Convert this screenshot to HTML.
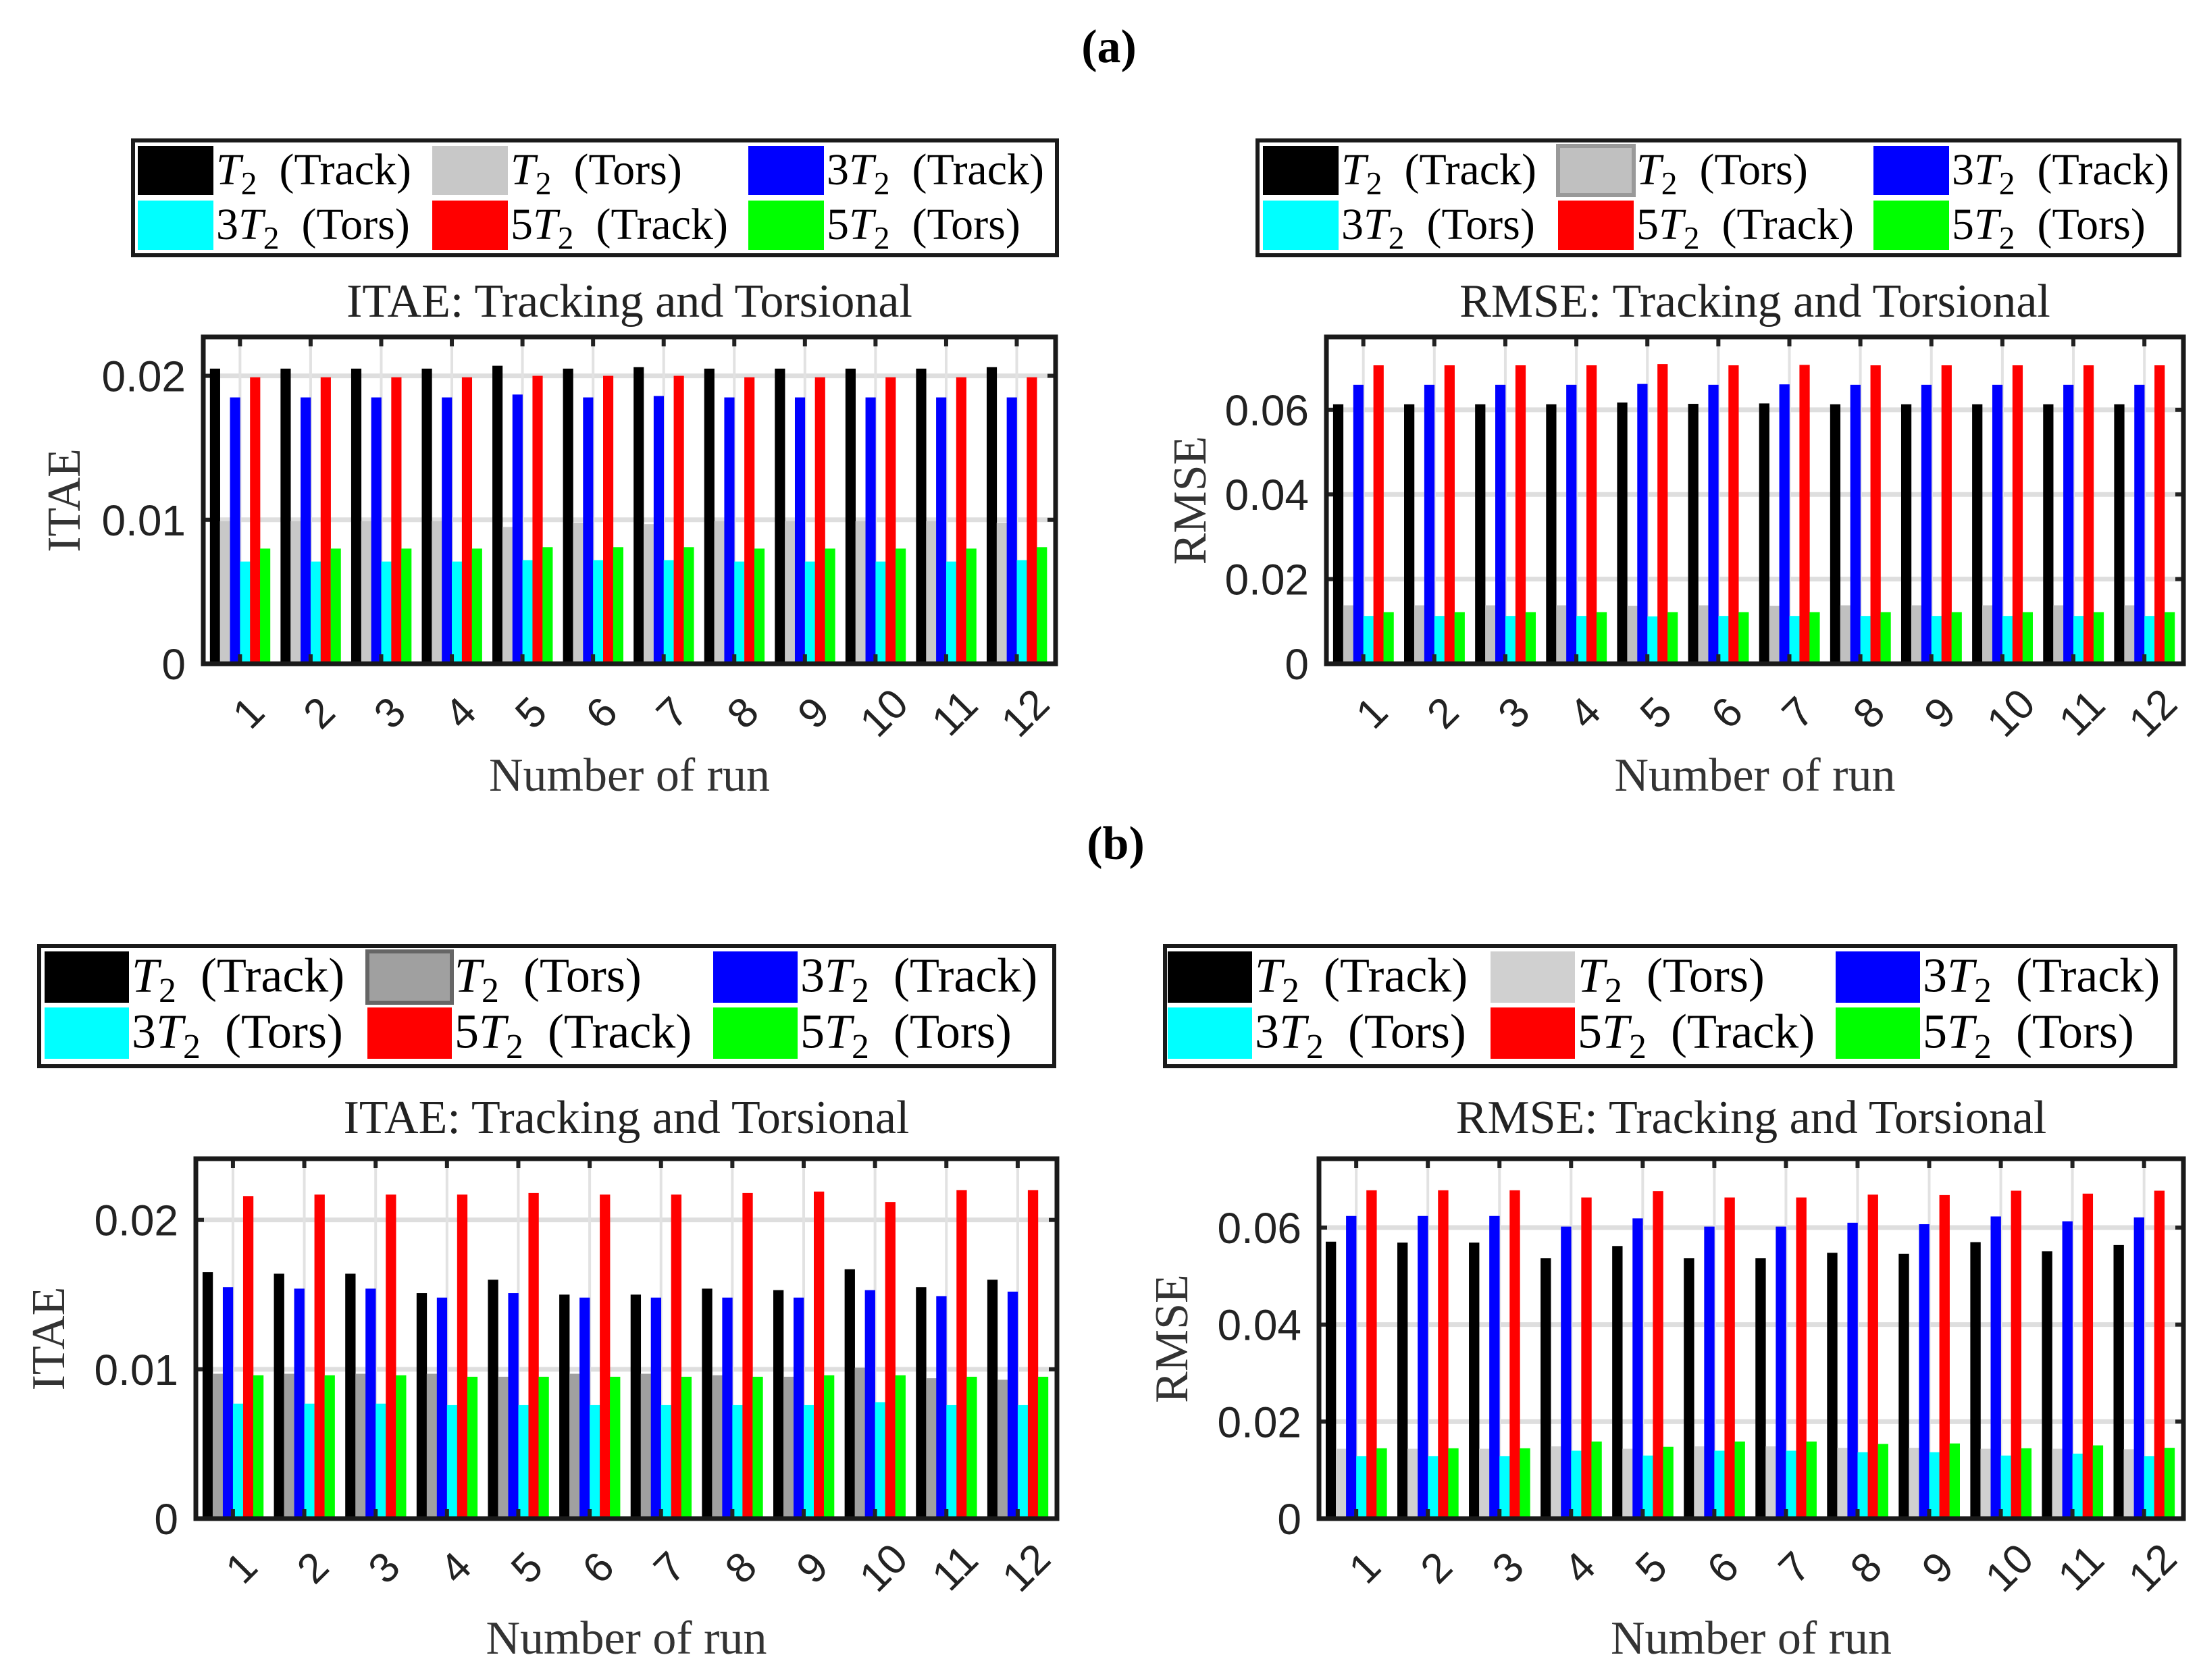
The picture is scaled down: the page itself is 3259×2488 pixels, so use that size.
<!DOCTYPE html>
<html><head><meta charset="utf-8"><style>
html,body{margin:0;padding:0;background:#fff}
svg{display:block}
</style></head><body>
<svg id="fig" width="3259" height="2488" viewBox="0 0 3259 2488" xmlns="http://www.w3.org/2000/svg">
<text x="1642" y="92" font-family="Liberation Serif, serif" font-weight="bold" font-size="70" text-anchor="middle">(a)</text>
<text x="1652" y="1272" font-family="Liberation Serif, serif" font-weight="bold" font-size="70" text-anchor="middle">(b)</text>
</svg>
<script>
const runs = ['1','2','3','4','5','6','7','8','9','10','11','12'];
const seriesNames = ['T2 (Track)','T2 (Tors)','3T2 (Track)','3T2 (Tors)','5T2 (Track)','5T2 (Tors)'];
// (a) ITAE
const aItaeT2Track = [0.0205,0.0205,0.0205,0.0205,0.0207,0.0205,0.0206,0.0205,0.0205,0.0205,0.0205,0.0206];
const aItaeT2Tors = [0.0099,0.0099,0.0099,0.0099,0.0095,0.0098,0.0097,0.0099,0.0099,0.0099,0.0099,0.0098];
const aItae3T2Track = [0.0185,0.0185,0.0185,0.0185,0.0187,0.0185,0.0186,0.0185,0.0185,0.0185,0.0185,0.0185];
const aItae3T2Tors = [0.0071,0.0071,0.0071,0.0071,0.0072,0.0072,0.0072,0.0071,0.0071,0.0071,0.0071,0.0072];
const aItae5T2Track = [0.0199,0.0199,0.0199,0.0199,0.0200,0.0200,0.0200,0.0199,0.0199,0.0199,0.0199,0.0199];
const aItae5T2Tors = [0.0080,0.0080,0.0080,0.0080,0.0081,0.0081,0.0081,0.0080,0.0080,0.0080,0.0080,0.0081];
const aItaeTicks = [0,0.01,0.02];
const aItaeTickLabels = ['0','0.01','0.02'];
// (a) RMSE
const aRmseT2Track = [0.0613,0.0613,0.0613,0.0613,0.0617,0.0614,0.0615,0.0613,0.0613,0.0613,0.0613,0.0613];
const aRmseT2Tors = [0.0138,0.0138,0.0138,0.0138,0.0137,0.0138,0.0137,0.0138,0.0138,0.0138,0.0138,0.0138];
const aRmse3T2Track = [0.0659,0.0659,0.0659,0.0659,0.0661,0.0659,0.0660,0.0659,0.0659,0.0659,0.0659,0.0659];
const aRmse3T2Tors = [0.0113,0.0113,0.0113,0.0113,0.0112,0.0113,0.0113,0.0113,0.0113,0.0113,0.0113,0.0113];
const aRmse5T2Track = [0.0705,0.0705,0.0705,0.0705,0.0708,0.0705,0.0706,0.0705,0.0705,0.0705,0.0705,0.0705];
const aRmse5T2Tors = [0.0122,0.0122,0.0122,0.0122,0.0122,0.0122,0.0122,0.0122,0.0122,0.0122,0.0122,0.0122];
const rmseTicks = [0,0.02,0.04,0.06];
const rmseTickLabels = ['0','0.02','0.04','0.06'];
// (b) ITAE
const bItaeT2Track = [0.0165,0.0164,0.0164,0.0151,0.0160,0.0150,0.0150,0.0154,0.0153,0.0167,0.0155,0.0160];
const bItaeT2Tors = [0.0097,0.0097,0.0097,0.0097,0.0095,0.0097,0.0097,0.0096,0.0095,0.0101,0.0094,0.0093];
const bItae3T2Track = [0.0155,0.0154,0.0154,0.0148,0.0151,0.0148,0.0148,0.0148,0.0148,0.0153,0.0149,0.0152];
const bItae3T2Tors = [0.0077,0.0077,0.0077,0.0076,0.0076,0.0076,0.0076,0.0076,0.0076,0.0078,0.0076,0.0076];
const bItae5T2Track = [0.0216,0.0217,0.0217,0.0217,0.0218,0.0217,0.0217,0.0218,0.0219,0.0212,0.0220,0.0220];
const bItae5T2Tors = [0.0096,0.0096,0.0096,0.0095,0.0095,0.0095,0.0095,0.0095,0.0096,0.0096,0.0095,0.0095];
const bItaeTicks = [0,0.01,0.02];
const bItaeTickLabels = ['0','0.01','0.02'];
// (b) RMSE
const bRmseT2Track = [0.0571,0.0569,0.0569,0.0537,0.0562,0.0537,0.0537,0.0548,0.0546,0.0570,0.0551,0.0564];
const bRmseT2Tors = [0.0144,0.0144,0.0144,0.0149,0.0144,0.0149,0.0149,0.0146,0.0146,0.0144,0.0144,0.0143];
const bRmse3T2Track = [0.0624,0.0624,0.0624,0.0602,0.0619,0.0602,0.0602,0.0610,0.0607,0.0623,0.0613,0.0621];
const bRmse3T2Tors = [0.0129,0.0129,0.0129,0.0140,0.0130,0.0140,0.0140,0.0137,0.0137,0.0130,0.0134,0.0129];
const bRmse5T2Track = [0.0677,0.0677,0.0677,0.0662,0.0675,0.0662,0.0662,0.0668,0.0667,0.0676,0.0670,0.0676];
const bRmse5T2Tors = [0.0145,0.0145,0.0145,0.0159,0.0148,0.0159,0.0159,0.0154,0.0155,0.0145,0.0151,0.0146];

const NS = 'http://www.w3.org/2000/svg';
const svg = document.getElementById('fig');
function mk(tag, attrs, parent){
  const e = document.createElementNS(NS, tag);
  for (const k in attrs) e.setAttribute(k, attrs[k]);
  (parent||svg).appendChild(e);
  return e;
}
function legendLabel(t, x, y, fs, parent){
  const pre = t.startsWith('3') ? '3' : (t.startsWith('5') ? '5' : '');
  const rest = t.slice(t.indexOf(' '));
  const tx = mk('text', {x:x, y:y, 'font-family':'Liberation Serif, serif', 'font-size':fs}, parent);
  if (pre) { const a = mk('tspan', {}, tx); a.textContent = pre; }
  const b = mk('tspan', {'font-style':'italic'}, tx); b.textContent = 'T';
  const c = mk('tspan', {dy: fs*0.22, 'font-size': fs*0.72}, tx); c.textContent = '2';
  const d = mk('tspan', {dy: -fs*0.22}, tx); d.textContent = '\u00A0\u00A0' + rest.trim();
  return tx;
}

function chart(cfg){
  const g = mk('g', {});
  
  
  const L = cfg.legend;
  const lg = mk('g', {}, g);
  
  
  mk('rect', {x:L.x, y:L.y, width:L.w, height:L.h, fill:'#fff', stroke:'#1a1a1a', 'stroke-width':6}, lg);
  for (let i = 0; i < 6; i++){
    const col = i % 3, row = Math.floor(i/3);
    const sx = L.cols[col], sy = L.rows[row];
    const e = mk('g', {}, lg);
    
    
    const sw = mk('rect', {x:sx, y:sy, width:L.sw, height:L.sh, fill:cfg.colors[i]}, e);
    if (i === 1 && cfg.grayBorder) { sw.setAttribute('stroke', cfg.grayBorder); sw.setAttribute('stroke-width', 6); }
    legendLabel(seriesNames[i], sx + L.sw + 4, sy + L.sh*0.78, L.fs, e);
  }
  const A = cfg.axes;
  const xS = v => A.x0 + (v - A.xmin) / (A.xmax - A.xmin) * (A.x1 - A.x0);
  const yS = v => A.y1 - v / A.ymax * (A.y1 - A.y0);
  const title = mk('text', {x:(A.x0+A.x1)/2, y:A.y0-30 + (cfg.titleDy||0), 'text-anchor':'middle', 'font-family':'Liberation Serif, serif', 'font-size':70, fill:'#222'}, g);
  
  
  title.textContent = cfg.title;
  cfg.ticks.forEach((t, i) => {
    if (t > 0) {
      const gl = mk('line', {x1:A.x0, x2:A.x1, y1:yS(t), y2:yS(t), stroke:'#dedede', 'stroke-width':7}, g);
      
      
    }
    const tl = mk('text', {x:A.x0-26, y:yS(t)+23, 'text-anchor':'end', 'font-family':'Liberation Sans, sans-serif', 'font-size':64, fill:'#222'}, g);
    
    
    tl.textContent = cfg.tickLabels[i];
    mk('line', {x1:A.x0, x2:A.x0+12, y1:yS(t), y2:yS(t), stroke:'#222', 'stroke-width':6}, g);
    mk('line', {x1:A.x1-12, x2:A.x1, y1:yS(t), y2:yS(t), stroke:'#222', 'stroke-width':6}, g);
  });
  runs.forEach((r, i) => {
    const cx = xS(i+1);
    const vg = mk('line', {x1:cx, x2:cx, y1:A.y0, y2:A.y1, stroke:'#e2e2e2', 'stroke-width':4}, g);
    
    
  });
  const spacing = xS(2) - xS(1);
  const bw = spacing * 0.142;
  cfg.series.forEach((arr, k) => {
    arr.forEach((v, i) => {
      const cx = xS(i+1) + (k - 2.5) * bw;
      const b = mk('rect', {x:cx - bw/2, y:yS(v), width:bw*1.02, height:yS(0)-yS(v), fill:cfg.colors[k]}, g);
      
      
    });
  });
  runs.forEach((r, i) => {
    const cx = xS(i+1);
    mk('line', {x1:cx, x2:cx, y1:A.y0, y2:A.y0+14, stroke:'#222', 'stroke-width':6}, g);
    mk('line', {x1:cx, x2:cx, y1:A.y1-14, y2:A.y1, stroke:'#222', 'stroke-width':6}, g);
    const lx = cx + 12, ly = A.y1 + 72;
    const tl = mk('text', {x:lx, y:ly + 22, 'text-anchor':'middle', 'font-family':'Liberation Sans, sans-serif', 'font-size':62, fill:'#222', transform:'rotate(-45 '+lx+' '+ly+')'}, g);
    
    
    tl.textContent = r;
  });
  const box = mk('rect', {x:A.x0, y:A.y0, width:A.x1-A.x0, height:A.y1-A.y0, fill:'none', stroke:'#1a1a1a', 'stroke-width':7}, g);
  
  
  const xl = mk('text', {x:(A.x0+A.x1)/2, y:A.y1+188 + (cfg.xlDy||0), 'text-anchor':'middle', 'font-family':'Liberation Serif, serif', 'font-size':70, fill:'#333'}, g);
  
  
  xl.textContent = 'Number of run';
  const yl = mk('text', {x:cfg.ylabelX, y:(A.y0+A.y1)/2, 'text-anchor':'middle', 'font-family':'Liberation Serif, serif', 'font-size':70, fill:'#333', transform:'rotate(-90 '+cfg.ylabelX+' '+((A.y0+A.y1)/2)+')'}, g);
  
  
  yl.textContent = cfg.ylabel;
}

chart({name:'a-itae-chart', title:'ITAE: Tracking and Torsional', ylabel:'ITAE', ylabelX:118,
  colors:['#000','#c8c8c8','#0000ff','#00ffff','#ff0000','#00ff00'],
  series:[aItaeT2Track,aItaeT2Tors,aItae3T2Track,aItae3T2Tors,aItae5T2Track,aItae5T2Tors],
  ticks:aItaeTicks, tickLabels:aItaeTickLabels,
  axes:{x0:301,x1:1563,y0:499,y1:983,xmin:0.48,xmax:12.55,ymax:0.0227},
  legend:{x:197,y:208,w:1368,h:170,cols:[204,640,1108],rows:[216,297],sw:112,sh:73,fs:66}});
chart({name:'a-rmse-chart', title:'RMSE: Tracking and Torsional', ylabel:'RMSE', ylabelX:1785,
  colors:['#000','#c0c0c0','#0000ff','#00ffff','#ff0000','#00ff00'], grayBorder:'#999',
  series:[aRmseT2Track,aRmseT2Tors,aRmse3T2Track,aRmse3T2Tors,aRmse5T2Track,aRmse5T2Tors],
  ticks:rmseTicks, tickLabels:rmseTickLabels,
  axes:{x0:1964,x1:3233,y0:499,y1:983,xmin:0.48,xmax:12.55,ymax:0.0772},
  legend:{x:1862,y:208,w:1365,h:170,cols:[1870,2307,2774],rows:[216,297],sw:112,sh:73,fs:66}});
chart({name:'b-itae-chart', title:'ITAE: Tracking and Torsional', ylabel:'ITAE', ylabelX:95, titleDy:-8, xlDy:12,
  colors:['#000','#a0a0a0','#0000ff','#00ffff','#ff0000','#00ff00'], grayBorder:'#666',
  series:[bItaeT2Track,bItaeT2Tors,bItae3T2Track,bItae3T2Tors,bItae5T2Track,bItae5T2Tors],
  ticks:bItaeTicks, tickLabels:bItaeTickLabels,
  axes:{x0:290,x1:1565,y0:1716,y1:2249,xmin:0.48,xmax:12.55,ymax:0.0241},
  legend:{x:58,y:1401,w:1503,h:178,cols:[66,544,1056],rows:[1409,1492],sw:125,sh:76,fs:72}});
chart({name:'b-rmse-chart', title:'RMSE: Tracking and Torsional', ylabel:'RMSE', ylabelX:1758, titleDy:-8, xlDy:12,
  colors:['#000','#d0d0d0','#0000ff','#00ffff','#ff0000','#00ff00'],
  series:[bRmseT2Track,bRmseT2Tors,bRmse3T2Track,bRmse3T2Tors,bRmse5T2Track,bRmse5T2Tors],
  ticks:rmseTicks, tickLabels:rmseTickLabels,
  axes:{x0:1953,x1:3233,y0:1716,y1:2249,xmin:0.48,xmax:12.55,ymax:0.0742},
  legend:{x:1725,y:1401,w:1496,h:178,cols:[1729,2207,2718],rows:[1409,1492],sw:125,sh:76,fs:72}});
</script>
</body></html>
